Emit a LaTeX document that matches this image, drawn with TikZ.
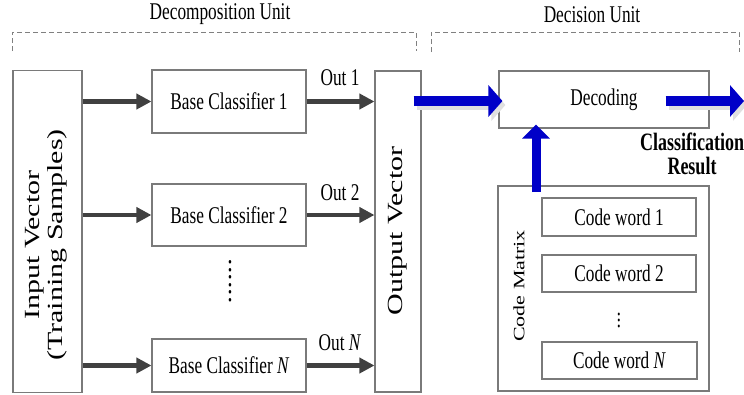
\documentclass[tikz,border=0pt]{standalone}
\usepackage{fontspec}
\setmainfont{Liberation Serif}
\usetikzlibrary{arrows.meta,calc}
% glyphs are drawn narrower than usual along the horizontal axis
\newcommand{\hsq}[1]{\scalebox{0.72}[1]{#1}}
\newcommand{\vsq}[1]{\scalebox{1}[0.72]{#1}}
\newcommand{\fs}[2]{\fontsize{#1}{#2}\selectfont}
\definecolor{arrowblue}{RGB}{0,0,200}
\definecolor{arrowgray}{RGB}{64,64,64}
\begin{document}
\begin{tikzpicture}[x=1pt,y=-1pt,
  box/.style={draw=black!52, line width=1.1pt, inner sep=0pt},
  lbl/.style={inner sep=0pt, font=\fs{24}{28}},
  grp/.style={draw=black!50, line width=0.9pt, dash pattern=on 5pt off 3pt},
  feed/.style={draw=arrowgray, line width=4.5pt, -{Triangle[length=15pt,width=15pt]}},
  fat/.style={draw=arrowblue, line width=10pt, -{Triangle[length=14pt,width=31pt]}},
  fatup/.style={draw=arrowblue, line width=9pt, -{Triangle[length=14pt,width=27pt]}},
  fatshadow/.style={draw=black!12, line width=10pt, -{Triangle[length=14pt,width=31pt]}},
]
\useasboundingbox (0,0) rectangle (744,394);

% group titles and dashed brackets
\node[lbl] (tdec) at (220,14) {\hsq{Decomposition Unit}};
\node[lbl] (tdcu) at (592,15) {\hsq{Decision Unit}};
\draw[grp] (12,51) -- (12,32) -- (416,32) -- (416,51);
\draw[grp] (431,52) -- (431,32) -- (739,32) -- (739,52);

% decomposition unit
\node[box, minimum width=69pt, minimum height=322pt] (in) at (47.5,231.5) {};
\node[inner sep=0pt, rotate=90, align=center, font=\fs{30}{32}] (inlbl) at (46,245)
  {\vsq{\begin{tabular}{@{}c@{}}Input\ Vector\\(Training Samples)\end{tabular}}};

\node[box, minimum width=154pt, minimum height=63pt, font=\fs{24}{28}] (bc1) at (229,101.5) {\hsq{Base Classifier 1}};
\node[box, minimum width=154pt, minimum height=62pt, font=\fs{24}{28}] (bc2) at (229,215) {\hsq{Base Classifier 2}};
\node[box, minimum width=154pt, minimum height=53pt, font=\fs{24}{28}] (bcN) at (229,365.5) {\hsq{Base Classifier \textit{N}}};
\node[inner sep=0pt, rotate=-90, font=\fs{30}{30}] (vdots) at (230,281) {\vsq{......}};

\node[box, minimum width=46pt, minimum height=321pt] (out) at (398,231.5) {};
\node[inner sep=0pt, rotate=90, font=\fs{30}{32}] (outlbl) at (398,231) {\vsq{Output Vector}};

\foreach \b in {bc1,bc2,bcN} {
  \draw[feed] (in.east |- \b.west) -- (\b.west);
  \draw[feed] (\b.east) -- (out.west |- \b.east);
}
\node[lbl] (o1) at (340,78) {\hsq{Out 1}};
\node[lbl] (o2) at (340,193) {\hsq{Out 2}};
\node[lbl] (oN) at (340,343) {\hsq{Out \textit{N}}};

% decision unit
\node[box, minimum width=210pt, minimum height=57pt, font=\fs{24}{28}] (dec) at (604,99.5) {\hsq{Decoding}};
\node[box, minimum width=211pt, minimum height=205pt] (cm) at (603.5,288.5) {};
\node[inner sep=0pt, rotate=90, font=\fs{22}{24}] (cmlbl) at (519,286) {\vsq{Code Matrix}};
\node[box, minimum width=154pt, minimum height=38pt, font=\fs{24}{28}] (cw1) at (619,217) {\hsq{Code word 1}};
\node[box, minimum width=154pt, minimum height=37pt, font=\fs{24}{28}] (cw2) at (619,273.5) {\hsq{Code word 2}};
\node[box, minimum width=155pt, minimum height=37pt, font=\fs{24}{28}] (cwN) at (619.5,360.5) {\hsq{Code word \textit{N}}};
\node[inner sep=0pt, rotate=-90, font=\fs{24}{24}] (cdots) at (619,320) {\vsq{...}};

\node[inner sep=0pt, align=center, font=\fs{25}{24}\bfseries] (res) at (692,154)
  {\hsq{Classification}\\\hsq{Result}};

% thick blue arrows with a soft shadow
\coordinate (outend) at (744,101);
\coordinate (up) at (536,192);
\draw[fatshadow] ([xshift=-5pt,yshift=-5.5pt]out.east |- dec.west) -- ([xshift=7pt,yshift=-5.5pt]dec.west);
\draw[fatshadow] ([xshift=-41pt,yshift=-5.5pt]dec.east) -- ([xshift=3pt,yshift=-4pt]outend);
\draw[fat] ([xshift=-8pt,yshift=-1.5pt]out.east |- dec.west) -- ([xshift=4pt,yshift=-1.5pt]dec.west);
\draw[fat] ([xshift=-44pt,yshift=-1.5pt]dec.east) -- (outend);
\draw[fatup] (up) -- ([yshift=4pt]up |- dec.south);
\end{tikzpicture}
\end{document}
